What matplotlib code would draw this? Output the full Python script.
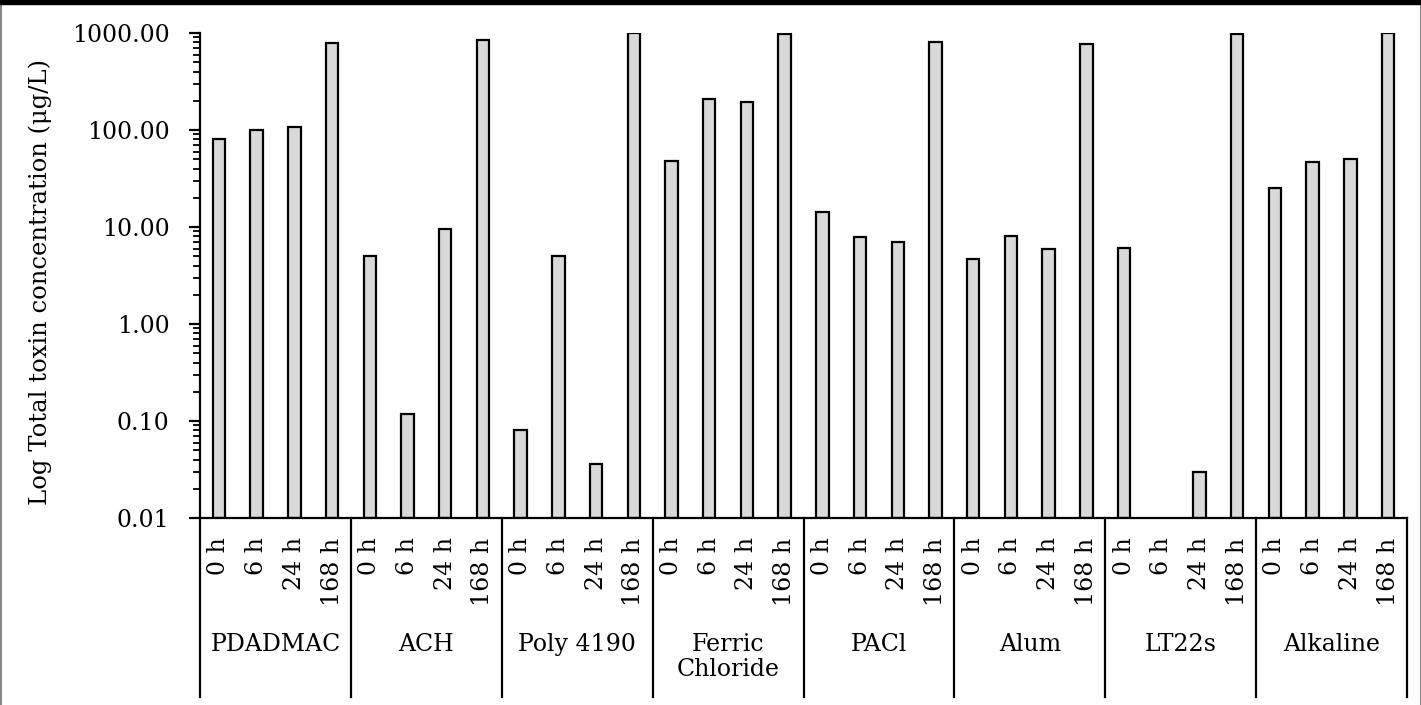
import numpy as np
import matplotlib
matplotlib.use("Agg")
import matplotlib.pyplot as plt
from matplotlib.ticker import LogLocator, FixedFormatter, FixedLocator, NullFormatter
from matplotlib.lines import Line2D
from matplotlib.patches import Rectangle

plt.rcParams['font.family'] = ['DejaVu Serif']

groups = ["PDADMAC", "ACH", "Poly 4190", "Ferric\nChloride", "PACl", "Alum", "LT22s", "Alkaline"]
times = ["0 h", "6 h", "24 h", "168 h"]
pdadmac = [80, 101, 107, 783]
ach = [5.0, 0.118, 9.6, 853]
poly4190 = [0.080, 5.0, 0.036, 993]
ferric = [48, 210, 195, 984]
pacl = [14.3, 7.8, 7.0, 802]
alum = [4.7, 8.1, 6.0, 765]
lt22s = [6.1, np.nan, 0.0296, 984]
alkaline = [25.1, 47, 50.6, 993]
series = [pdadmac, ach, poly4190, ferric, pacl, alum, lt22s, alkaline]

ymin = 0.01
values = np.array([v for s in series for v in s], dtype=float)
labels = [t for _ in groups for t in times]
x = np.arange(len(values))

W, H = 1421, 705
fig = plt.figure(figsize=(W / 100, H / 100), dpi=100)
ax = fig.add_axes([200 / W, (H - 518) / H, 1207 / W, 485 / H])

ax.bar(x, values - ymin, width=0.33, bottom=ymin, color="#d9d9d9",
       edgecolor="black", linewidth=1.6)
ax.set_yscale("log")
ax.set_ylim(ymin, 1000)
ax.set_xlim(-0.5, len(values) - 0.5)

ax.yaxis.set_major_locator(FixedLocator([0.01, 0.1, 1, 10, 100, 1000]))
ax.yaxis.set_major_formatter(FixedFormatter(["0.01", "0.10", "1.00", "10.00", "100.00", "1000.00"]))
ax.yaxis.set_minor_locator(LogLocator(base=10, subs=np.arange(2, 10)))
ax.yaxis.set_minor_formatter(NullFormatter())
ax.tick_params(axis="y", which="major", length=8, width=1.6, labelsize=17, pad=14)
ax.tick_params(axis="y", which="minor", length=5, width=1.3)

ax.set_xticks(x)
ax.set_xticklabels(labels, rotation=90, fontsize=17)
ax.tick_params(axis="x", length=0, pad=14)

for sp in ["top", "right"]:
    ax.spines[sp].set_visible(False)
for sp in ["left", "bottom"]:
    ax.spines[sp].set_linewidth(1.6)

ax.set_ylabel("Log Total toxin concentration (μg/L)", fontsize=17.5)
ax.yaxis.set_label_coords((52 - 200) / 1207, (518 - 282) / 485)

# group separators and labels
ybot = -(697 - 518) / 485
trans = ax.get_xaxis_transform()
for k in range(len(groups) + 1):
    xb = k * 4 - 0.5
    ax.add_line(Line2D([xb, xb], [0, ybot], transform=trans, color="black",
                       linewidth=1.6, clip_on=False))
for k, g in enumerate(groups):
    ax.text(k * 4 + 1.5, -(633 - 518) / 485, g, transform=trans, ha="center",
            va="top", fontsize=17, linespacing=1.1)

# figure frame
fig.patches.append(Rectangle((0, 1 - 4 / H), 1, 4 / H, transform=fig.transFigure,
                             color="black", zorder=10))
fig.add_artist(Line2D([0.5 / W, 0.5 / W], [0, 1], transform=fig.transFigure, color="#888888", linewidth=1.5))
fig.add_artist(Line2D([1 - 0.5 / W, 1 - 0.5 / W], [0, 1], transform=fig.transFigure, color="#888888", linewidth=1.5))

fig.savefig("out.png", dpi=100)
